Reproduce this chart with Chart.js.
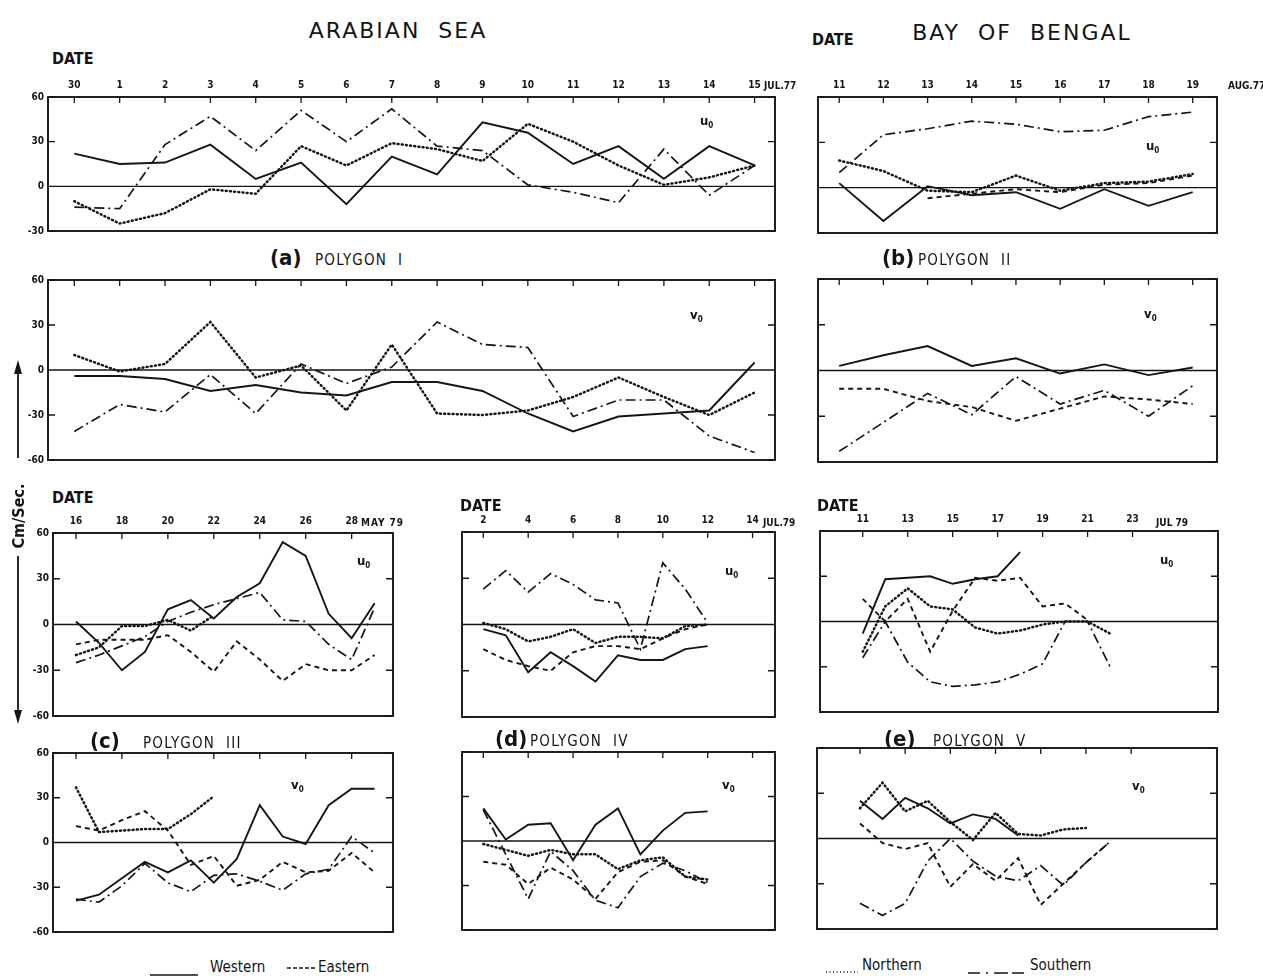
<!DOCTYPE html>
<html><head><meta charset="utf-8">
<script src="https://cdn.jsdelivr.net/npm/chart.js@4.4.1/dist/chart.umd.min.js"></script>
<style>
html,body{margin:0;padding:0;background:#fff;}
#page{position:relative;width:1263px;height:978px;overflow:hidden;background:#fff;font-family:'DejaVu Sans Condensed','DejaVu Sans',sans-serif;color:#141414;}
canvas{position:absolute;}
.t{position:absolute;white-space:nowrap;line-height:1;}
svg{position:absolute;left:0;top:0;}
</style></head>
<body><div id="page"></div>
<script>
// ---------- categories / tick labels ----------
const daysA = [0,1,2,3,4,5,6,7,8,9,10,11,12,13,14,15];
const tickLabelsA = ['30','1','2','3','4','5','6','7','8','9','10','11','12','13','14','15'];
const daysB = [11,12,13,14,15,16,17,18,19];
const daysC = [16,17,18,19,20,21,22,23,24,25,26,27,28,29];
const tickDaysC = [16,18,20,22,24,26,28];
const daysD = [2,3,4,5,6,7,8,9,10,11,12];
const tickDaysD = [2,4,6,8,10,12,14];
const daysE = [11,12,13,14,15,16,17,18,19,20,21,22];
const tickDaysE = [11,13,15,17,19,21,23];
const yTicksShort = [-30,0,30,60];
const yTicksFull = [-60,-30,0,30,60];

// ---------- series values (cm/sec) ----------
// (a) Polygon I
const aU_W = [22,15,16,28,5,16,-12,20,8,43,36,15,27,5,27,14];
const aU_N = [-10,-25,-18,-2,-5,27,14,29,25,17,42,30,14,1,6,14];
const aU_S = [-14,-15,28,47,24,51,30,52,27,24,1,-4,-11,25,-6,14];
const aV_W = [-4,-4,-6,-14,-10,-15,-17,-8,-8,-14,-29,-41,-31,-29,-27,5];
const aV_N = [10,-1,4,32,-5,3,-27,17,-29,-30,-27,-18,-5,-18,-30,-15];
const aV_S = [-41,-23,-28,-3,-29,4,-9,2,32,17,15,-31,-20,-20,-44,-55];
// (b) Polygon II
const bU_W = [3,-22,1,-5,-3,-14,-1,-12,-3];
const bU_N = [18,11,-2,-3,8,-2,3,4,9];
const bU_E = [null,null,-7,-4,-1,-3,2,3,8];
const bU_S = [10,35,39,44,42,37,38,47,50];
const bV_W = [3,10,16,3,8,-2,4,-3,2];
const bV_E = [-12,-12,-20,-24,-33,-25,-17,-19,-22];
const bV_S = [-53,-34,-15,-29,-4,-22,-13,-30,-10];
// (c) Polygon III
const cU_W = [2,-12,-30,-18,10,16,4,18,27,54,45,7,-9,14];
const cU_E = [-13,-10,-10,-10,-7,-18,-31,-11,-23,-37,-26,-30,-30,-20];
const cU_N = [-20,-15,-1,-1,3,-4,6,null,null,null,null,null,null,null];
const cU_S = [-25,-20,-14,-8,2,8,13,17,21,3,2,-13,-23,11];
const cV_W = [-39,-35,-24,-13,-20,-12,-27,-11,25,4,-1,25,36,36];
const cV_E = [11,8,15,21,8,-15,-9,-29,-25,-13,-20,-19,-7,-20];
const cV_N = [37,7,8,9,9,19,31,null,null,null,null,null,null,null];
const cV_S = [-38,-40,-29,-14,-27,-33,-22,-21,-26,-32,-21,-18,4,-7];
// (d) Polygon IV
const dU_W = [-3,-7,-31,-18,-27,-37,-20,-23,-23,-16,-14];
const dU_E = [-16,-23,-27,-30,-18,-14,-14,-16,-9,-3,0];
const dU_N = [1,-3,-11,-8,-3,-12,-8,-8,-9,-1,0];
const dU_S = [23,35,21,33,26,16,14,-16,40,23,1];
const dV_W = [22,1,11,12,-13,11,22,-9,7,19,20];
const dV_E = [-14,-16,-29,-18,-26,-39,-21,-14,-13,-24,-29];
const dV_N = [-2,-6,-10,-6,-9,-9,-19,-13,-11,-24,-26];
const dV_S = [21,-9,-39,-7,-20,-40,-45,-24,-15,-20,-28];
// (e) Polygon V
const eU_W = [-8,28,29,30,25,28,30,46,null,null,null,null];
const eU_E = [15,0,15,-20,7,29,27,29,10,12,1,null];
const eU_N = [-20,10,22,10,8,-4,-8,-6,-2,0,0,-8];
const eU_S = [-24,0,-27,-40,-43,-42,-40,-35,-28,0,0,-30];
const eV_W = [25,13,27,20,10,16,13,2,null,null,null,null];
const eV_E = [10,-3,-7,-3,-32,-17,-28,-13,-44,-30,-16,-3];
const eV_N = [20,37,18,25,11,-1,17,3,2,6,7,null];
const eV_S = [-43,-51,-43,-15,0,-15,-25,-28,-18,-31,-16,-3];

// ---------- styles ----------
const INK = '#151515';
const STYLE = {
  W: {borderDash: [], borderWidth: 1.9},
  E: {borderDash: [5,4], borderWidth: 1.9},
  N: {borderDash: [1,3.2], borderWidth: 2.5, borderCapStyle: 'round'},
  S: {borderDash: [10,4,2,4], borderWidth: 1.7}
};
const TICKFONT = {family: "'DejaVu Sans Condensed','DejaVu Sans',sans-serif", size: 10, weight: 'bold'};
const page = document.getElementById('page');

const framePlugin = {
  id: 'frame',
  beforeDatasetsDraw(chart) {
    const {ctx, chartArea: ca, scales: {x, y}} = chart;
    ctx.save();
    ctx.strokeStyle = INK;
    ctx.lineWidth = 1.9;
    ctx.strokeRect(ca.left, ca.top, ca.right - ca.left, ca.bottom - ca.top);
    ctx.lineWidth = 1.3;
    const y0 = y.getPixelForValue(0);
    ctx.beginPath();
    ctx.moveTo(ca.left, y0); ctx.lineTo(ca.right, y0);
    x.ticks.forEach(t => {
      const px = x.getPixelForValue(t.value);
      ctx.moveTo(px, ca.top); ctx.lineTo(px, ca.top + 6);
    });
    y.ticks.forEach(t => {
      const py = y.getPixelForValue(t.value);
      ctx.moveTo(ca.left, py); ctx.lineTo(ca.left + 7, py);
      ctx.moveTo(ca.right, py); ctx.lineTo(ca.right - 7, py);
    });
    ctx.stroke();
    ctx.restore();
  }
};

function makePanel(p) {
  const leftW = p.showY ? 30 : 2;
  const topH = p.showX ? 24 : 10;
  const padR = 4, padB = 8;
  const bw = p.box[2] - p.box[0], bh = p.box[3] - p.box[1];
  const cv = document.createElement('canvas');
  cv.width = bw + leftW + padR; cv.height = bh + topH + padB;
  cv.style.left = (p.box[0] - leftW) + 'px';
  cv.style.top = (p.box[1] - topH) + 'px';
  cv.style.width = cv.width + 'px'; cv.style.height = cv.height + 'px';
  page.appendChild(cv);
  new Chart(cv, {
    type: 'line',
    data: {datasets: p.series.map(s => Object.assign({
      label: s.name,
      data: p.days.map((d, i) => ({x: d, y: s.values[i]})),
      borderColor: INK, backgroundColor: 'transparent',
      pointRadius: 0, tension: 0, fill: false, spanGaps: false
    }, STYLE[s.kind]))},
    options: {
      responsive: false, animation: false, devicePixelRatio: 1,
      layout: {padding: {left: 0, top: 0, right: padR, bottom: padB}},
      plugins: {legend: {display: false}, tooltip: {enabled: false}},
      scales: {
        x: {type: 'linear', position: 'top', min: p.xr[0], max: p.xr[1],
          afterBuildTicks: s => { s.ticks = p.xTicks.map(v => ({value: v})); },
          ticks: {display: p.showX, autoSkip: false, maxRotation: 0, padding: 6, color: INK, font: TICKFONT,
                  callback: v => p.xLabel(v)},
          grid: {display: false, drawTicks: false}, border: {display: false},
          afterFit: s => { s.height = topH; }},
        y: {type: 'linear', min: p.yr[0], max: p.yr[1],
          afterBuildTicks: s => { s.ticks = p.yTicks.map(v => ({value: v})); },
          ticks: {display: p.showY, padding: 4, color: INK, font: TICKFONT},
          grid: {display: false, drawTicks: false}, border: {display: false},
          afterFit: s => { s.width = leftW; }}
      }
    },
    plugins: [framePlugin]
  });
}

const labA = v => tickLabelsA[daysA.indexOf(v)];
const labN = v => String(v);

const panels = [
  {box:[48,97,775,233], days:daysA, xr:[-0.58,15.45], xTicks:daysA, xLabel:labA, showX:true, yr:[-30,60], yTicks:yTicksShort, showY:true,
   series:[{name:'Western',kind:'W',values:aU_W},{name:'Northern',kind:'N',values:aU_N},{name:'Southern',kind:'S',values:aU_S}]},
  {box:[48,280,775,462], days:daysA, xr:[-0.58,15.45], xTicks:daysA, xLabel:labA, showX:false, yr:[-60,60], yTicks:yTicksFull, showY:true,
   series:[{name:'Western',kind:'W',values:aV_W},{name:'Northern',kind:'N',values:aV_N},{name:'Southern',kind:'S',values:aV_S}]},
  {box:[818,97,1217,233], days:daysB, xr:[10.52,19.55], xTicks:daysB, xLabel:labN, showX:true, yr:[-30,60], yTicks:yTicksShort, showY:false,
   series:[{name:'Western',kind:'W',values:bU_W},{name:'Eastern',kind:'E',values:bU_E},{name:'Northern',kind:'N',values:bU_N},{name:'Southern',kind:'S',values:bU_S}]},
  {box:[818,279,1217,462], days:daysB, xr:[10.52,19.55], xTicks:daysB, xLabel:labN, showX:false, yr:[-60,60], yTicks:yTicksFull, showY:false,
   series:[{name:'Western',kind:'W',values:bV_W},{name:'Eastern',kind:'E',values:bV_E},{name:'Southern',kind:'S',values:bV_S}]},
  {box:[53,533,393,718], days:daysC, xr:[15.0,29.8], xTicks:tickDaysC, xLabel:labN, showX:true, yr:[-60,60], yTicks:yTicksFull, showY:true,
   series:[{name:'Western',kind:'W',values:cU_W},{name:'Eastern',kind:'E',values:cU_E},{name:'Northern',kind:'N',values:cU_N},{name:'Southern',kind:'S',values:cU_S}]},
  {box:[53,753,393,934], days:daysC, xr:[15.0,29.8], xTicks:tickDaysC, xLabel:labN, showX:false, yr:[-60,60], yTicks:yTicksFull, showY:true,
   series:[{name:'Western',kind:'W',values:cV_W},{name:'Eastern',kind:'E',values:cV_E},{name:'Northern',kind:'N',values:cV_N},{name:'Southern',kind:'S',values:cV_S}]},
  {box:[462,532,775,717], days:daysD, xr:[1.05,15.0], xTicks:tickDaysD, xLabel:labN, showX:true, yr:[-60,60], yTicks:yTicksFull, showY:false,
   series:[{name:'Western',kind:'W',values:dU_W},{name:'Eastern',kind:'E',values:dU_E},{name:'Northern',kind:'N',values:dU_N},{name:'Southern',kind:'S',values:dU_S}]},
  {box:[462,752,775,930], days:daysD, xr:[1.05,15.0], xTicks:tickDaysD, xLabel:labN, showX:false, yr:[-60,60], yTicks:yTicksFull, showY:false,
   series:[{name:'Western',kind:'W',values:dV_W},{name:'Eastern',kind:'E',values:dV_E},{name:'Northern',kind:'N',values:dV_N},{name:'Southern',kind:'S',values:dV_S}]},
  {box:[820,531,1218,712], days:daysE, xr:[9.1,26.8], xTicks:tickDaysE, xLabel:labN, showX:true, yr:[-60,60], yTicks:yTicksFull, showY:false,
   series:[{name:'Western',kind:'W',values:eU_W},{name:'Eastern',kind:'E',values:eU_E},{name:'Northern',kind:'N',values:eU_N},{name:'Southern',kind:'S',values:eU_S}]},
  {box:[817,748,1217,929], days:daysE, xr:[9.1,26.8], xTicks:tickDaysE, xLabel:labN, showX:false, yr:[-60,60], yTicks:yTicksFull, showY:false,
   series:[{name:'Western',kind:'W',values:eV_W},{name:'Eastern',kind:'E',values:eV_E},{name:'Northern',kind:'N',values:eV_N},{name:'Southern',kind:'S',values:eV_S}]}
];
panels.forEach(makePanel);

// ---------- text ----------
function T(str, x, y, size, o) {
  o = o || {};
  const d = document.createElement('div');
  d.className = 't';
  d.innerHTML = str;
  d.style.left = x + 'px'; d.style.top = y + 'px';
  d.style.fontSize = size + 'px';
  d.style.fontWeight = o.w || 'normal';
  if (o.ls) d.style.letterSpacing = o.ls + 'px';
  if (o.ff) d.style.fontFamily = o.ff;
  d.style.transform = o.center ? 'translate(-50%,-50%)' : 'translateY(-50%)';
  page.appendChild(d);
  return d;
}
T('ARABIAN&nbsp; SEA', 398, 31, 22, {center:true, ls:2, ff:"'DejaVu Sans',sans-serif"});
T('BAY&nbsp; OF&nbsp; BENGAL', 1022, 33, 22, {center:true, ls:2, ff:"'DejaVu Sans',sans-serif"});
[[52,59],[812,40],[52,498],[460,506],[817,506]].forEach(p => T('DATE', p[0], p[1], 16, {w:'bold'}));
// axis end labels
T('JUL.77', 764, 86, 10, {w:'bold'});
T('AUG.77', 1228, 86, 10, {w:'bold'});
T('MAY 79', 361, 523, 10, {w:'bold', ls:1});
T('JUL.79', 763, 523, 10, {w:'bold'});
T('JUL 79', 1156, 523, 10, {w:'bold'});
// panel captions
const caps = [['(a)','POLYGON&nbsp; I',270,315,258],['(b)','POLYGON&nbsp; II',882,918,258],['(c)','POLYGON&nbsp; III',90,143,741],['(d)','POLYGON&nbsp; IV',495,530,739],['(e)','POLYGON&nbsp; V',884,933,739]];
caps.forEach(c => { T(c[0], c[2], c[4], 22, {w:'bold'}); T(c[1], c[3], c[4]+2, 15, {ls:1.2}); });
// component labels
const comps = [['u',700,122],['v',690,316],['u',1146,147],['v',1144,315],['u',357,562],['v',291,786],['u',725,572],['v',722,786],['u',1160,561],['v',1132,787]];
comps.forEach(c => T(c[0] + '<sub style="font-size:8px">0</sub>', c[1], c[2], 13, {w:'bold'}));
// y-axis title
const yt = T('Cm/Sec.', 19, 516, 16, {w:'bold'});
yt.style.transform = 'translate(-50%,-50%) rotate(-90deg)';
// legend texts
T('Western', 210, 967, 15);
T('Eastern', 318, 967, 15);
T('Northern', 862, 965, 15);
T('Southern', 1030, 965, 15);

// arrows + legend samples
const svgNS = 'http://www.w3.org/2000/svg';
const svg = document.createElementNS(svgNS, 'svg');
svg.setAttribute('width', 1263); svg.setAttribute('height', 978);
svg.innerHTML = `
 <line x1="18" y1="458" x2="18" y2="372" stroke="${INK}" stroke-width="1.8"/>
 <polygon points="18,360 14,374 22,374" fill="${INK}"/>
 <line x1="18" y1="556" x2="18" y2="712" stroke="${INK}" stroke-width="1.8"/>
 <polygon points="18,724 14,710 22,710" fill="${INK}"/>
 <line x1="150" y1="975" x2="198" y2="975" stroke="${INK}" stroke-width="1.6"/>
 <line x1="287" y1="968" x2="315" y2="968" stroke="${INK}" stroke-width="1.6" stroke-dasharray="4,2"/>
 <line x1="826" y1="972" x2="858" y2="972" stroke="${INK}" stroke-width="1.4" stroke-dasharray="1,2.5"/>
 <line x1="968" y1="973" x2="1027" y2="973" stroke="${INK}" stroke-width="1.6" stroke-dasharray="12,6,2,6,14,4"/>
`;
page.appendChild(svg);
</script></body></html>
